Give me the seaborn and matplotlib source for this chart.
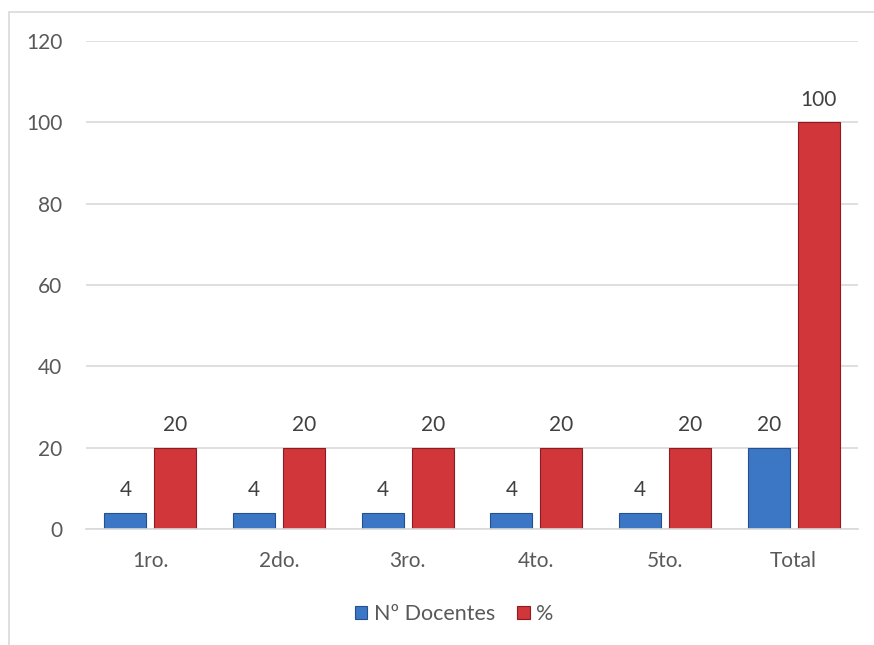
import matplotlib
matplotlib.use("Agg")
import matplotlib.pyplot as plt
import seaborn as sns
import pandas as pd
from matplotlib.patches import Rectangle

categories = ["1ro.", "2do.", "3ro.", "4to.", "5to.", "Total"]
docentes = [4, 4, 4, 4, 4, 20]
porcentaje = [20, 20, 20, 20, 20, 100]
series_names = ["Nº Docentes", "%"]
yticks = [0, 20, 40, 60, 80, 100, 120]

df = pd.DataFrame({
    "cat": categories * 2,
    "serie": [series_names[0]] * len(categories) + [series_names[1]] * len(categories),
    "val": docentes + porcentaje,
})

sns.set_theme(style="white")
plt.rcParams["font.family"] = ["Lato", "DejaVu Sans"]

fig = plt.figure(figsize=(8.74, 6.45), dpi=100)
ax = fig.add_axes([86 / 874, 1 - 529 / 645, 772 / 874, 488 / 645])

palette = {series_names[0]: "#3c77c6", series_names[1]: "#d1363b"}
sns.barplot(data=df, x="cat", y="val", hue="serie", order=categories,
            hue_order=series_names, palette=palette, width=0.776, gap=0.16,
            saturation=1, ax=ax, legend=False)

edge = {series_names[0]: "#24508f", series_names[1]: "#8e1b1f"}
for cont, name in zip(ax.containers, series_names):
    for p in cont:
        p.set_edgecolor(edge[name])
        p.set_linewidth(0.8)
    ax.bar_label(cont, labels=[f"{v:g}" for v in cont.datavalues], padding=9,
                 fontsize=15, color="#404040")

ax.set_ylim(0, 120)
ax.set_xlim(-0.5, len(categories) - 0.5)
ax.set_yticks(yticks)
ax.yaxis.grid(True, color="#d9d9d9", linewidth=1.2)
ax.set_axisbelow(True)
for s in ["top", "right", "left"]:
    ax.spines[s].set_visible(False)
ax.spines["bottom"].set_color("#d9d9d9")
ax.spines["bottom"].set_linewidth(1.2)
ax.tick_params(axis="x", length=0, pad=16, labelsize=15, labelcolor="#595959")
ax.tick_params(axis="y", length=0, pad=17, labelsize=15, labelcolor="#595959")
ax.set_xlabel("")
ax.set_ylabel("")

handles = [Rectangle((0, 0), 1, 1, facecolor=palette[n], edgecolor=edge[n], linewidth=0.8)
           for n in series_names]
fig.legend(handles, series_names, loc="center", bbox_to_anchor=(454 / 874, 1 - 614 / 645),
           ncol=2, frameon=False, fontsize=15.5, labelcolor="#595959",
           handlelength=0.6, handleheight=0.6, handletextpad=0.3, columnspacing=1.0)

fig.patches.append(Rectangle((9 / 874, -0.1), 1.2, 1 - 12 / 645 + 0.1,
                             transform=fig.transFigure, fill=False,
                             edgecolor="#d9d9d9", linewidth=1.2))

fig.savefig("out.png", dpi=100)
